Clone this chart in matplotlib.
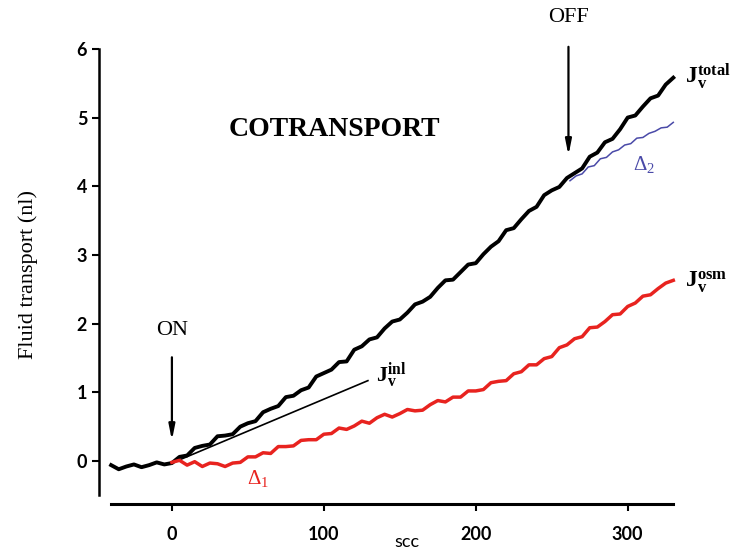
import matplotlib
matplotlib.use("Agg")
import matplotlib.pyplot as plt

plt.rcParams["mathtext.fontset"] = "custom"
plt.rcParams["mathtext.rm"] = "Liberation Serif"
plt.rcParams["mathtext.bf"] = "Liberation Serif:bold"

# Total fluid transport (black trace), every 5 s
t_total = list(range(-40, 335, 5))
jv_total = [-0.06, -0.12, -0.08, -0.05, -0.09, -0.06, -0.02, -0.05, -0.03, 0.06,
            0.08, 0.19, 0.22, 0.24, 0.36, 0.37, 0.39, 0.50, 0.55, 0.58,
            0.71, 0.76, 0.80, 0.93, 0.95, 1.03, 1.07, 1.23, 1.28, 1.33,
            1.44, 1.45, 1.62, 1.67, 1.77, 1.80, 1.93, 2.03, 2.06, 2.16,
            2.28, 2.32, 2.39, 2.52, 2.63, 2.64, 2.75, 2.86, 2.88, 3.01,
            3.12, 3.20, 3.36, 3.39, 3.52, 3.64, 3.70, 3.87, 3.94, 3.99,
            4.12, 4.19, 4.26, 4.43, 4.49, 4.64, 4.69, 4.83, 5.00, 5.03,
            5.16, 5.28, 5.32, 5.48, 5.58]

# Osmotic component (red trace)
t_osm = list(range(0, 335, 5))
jv_osm = [-0.02, 0.01, -0.06, -0.01, -0.08, -0.03, -0.04, -0.08, -0.03, -0.02,
          0.06, 0.06, 0.12, 0.11, 0.21, 0.21, 0.22, 0.30, 0.31, 0.31,
          0.39, 0.40, 0.48, 0.46, 0.51, 0.58, 0.55, 0.63, 0.68, 0.64,
          0.69, 0.75, 0.73, 0.74, 0.82, 0.88, 0.86, 0.93, 0.93, 1.02,
          1.02, 1.04, 1.14, 1.16, 1.17, 1.27, 1.30, 1.40, 1.40, 1.49,
          1.52, 1.65, 1.69, 1.78, 1.81, 1.94, 1.95, 2.03, 2.13, 2.14,
          2.25, 2.30, 2.40, 2.42, 2.51, 2.59, 2.63]

# Trace after cotransport switched off (blue)
t_off = [262, 266, 270, 274, 278, 282, 286, 290, 294, 298, 302, 306, 310, 314, 318, 322, 326, 330]
jv_off = [4.08, 4.15, 4.18, 4.28, 4.30, 4.40, 4.42, 4.50, 4.53, 4.60, 4.62, 4.70, 4.71,
          4.77, 4.80, 4.85, 4.86, 4.93]

# initial slope line
t_inl = [0, 129]
jv_inl = [-0.03, 1.17]

fig = plt.figure(figsize=(7.47, 5.52), dpi=100)
ax = fig.add_axes([0.1325, 0.0877, 0.779, 0.830])

ax.plot(t_inl, jv_inl, color="black", lw=1.2, zorder=2)
ax.plot(t_total, jv_total, color="black", lw=2.8, zorder=3)
ax.plot(t_osm, jv_osm, color="#e8231f", lw=2.5, zorder=3)
ax.plot(t_off, jv_off, color="#4a4aa8", lw=1.1, zorder=4)

ax.set_xlim(-48, 335)
ax.set_ylim(-0.62, 6.05)

for s in ["top", "right"]:
    ax.spines[s].set_visible(False)
ax.spines["left"].set_bounds(-0.5, 6)
ax.spines["bottom"].set_bounds(-40, 330)
ax.spines["left"].set_linewidth(1.8)
ax.spines["bottom"].set_linewidth(2.2)

ax.set_xticks([0, 100, 200, 300])
ax.set_yticks([0, 1, 2, 3, 4, 5, 6])
ax.tick_params(axis="both", direction="out", length=5, width=1.5, labelsize=13)
ax.tick_params(axis="x", pad=11)
for lab in ax.get_xticklabels() + ax.get_yticklabels():
    lab.set_family("Lato")
    lab.set_fontweight("bold")

ax.set_xlabel("scc", family="Lato", fontsize=13, va="center")
ax.xaxis.set_label_coords(0.529, -0.083)
ax.set_ylabel("Fluid transport (nl)", family="Liberation Serif", fontsize=16, labelpad=28)

ax.text(107, 4.82, "COTRANSPORT", family="Liberation Serif", fontweight="bold",
        fontsize=20, ha="center", va="center")

arrow = dict(arrowstyle="-|>,head_length=0.9,head_width=0.18", color="black", lw=1.6,
             shrinkA=0, shrinkB=0)
ax.annotate("", xy=(0, 0.3), xytext=(0, 1.51), arrowprops=arrow)
ax.text(0, 1.9, "ON", family="Liberation Serif", fontsize=16, ha="center", va="center")
ax.annotate("", xy=(261, 4.45), xytext=(261, 6.03), arrowprops=arrow, annotation_clip=False)
ax.text(261, 6.46, "OFF", family="Liberation Serif", fontsize=16, ha="center", va="center",
        clip_on=False)

ax.text(338, 5.6, r"$\mathbf{J_v^{total}}$", fontsize=17, ha="left", va="center", clip_on=False)
ax.text(338, 2.6, r"$\mathbf{J_v^{osm}}$", fontsize=17, ha="left", va="center", clip_on=False)
ax.text(134, 1.25, r"$\mathbf{J_v^{inl}}$", fontsize=16, ha="left", va="center")
ax.text(57, -0.27, r"$\Delta_1$", family="DejaVu Sans", fontsize=15, color="#e8231f",
        ha="center", va="center")
ax.text(311, 4.3, r"$\Delta_2$", family="DejaVu Sans", fontsize=15, color="#4a4aa8",
        ha="center", va="center")

fig.savefig("out.png", dpi=100)
